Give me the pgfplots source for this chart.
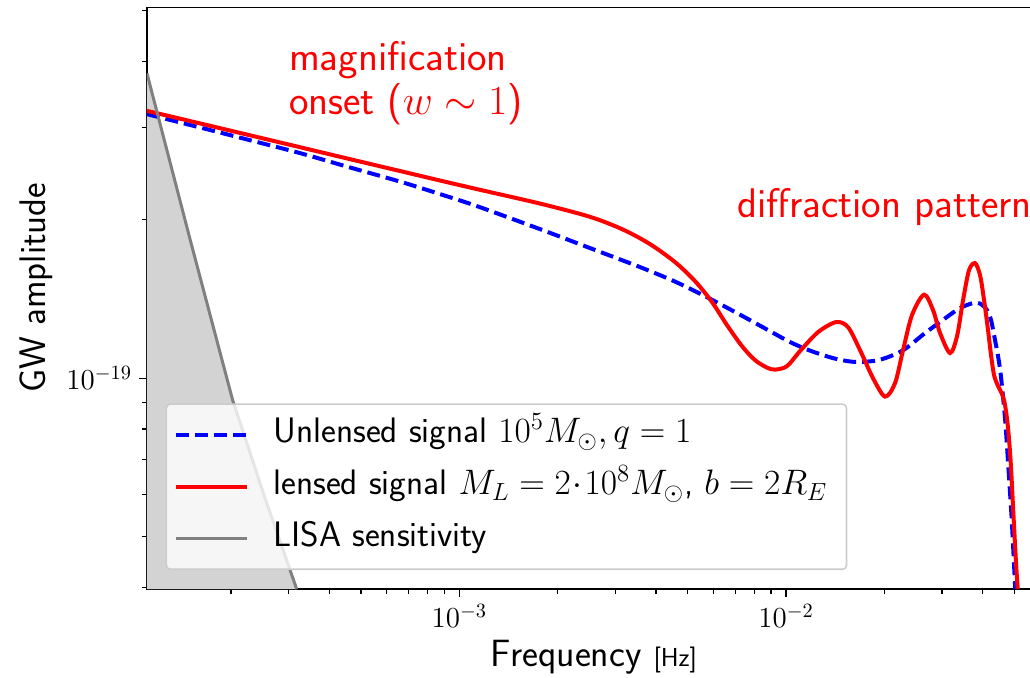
\RequirePackage{fix-cm}
\documentclass[border=0pt]{standalone}
\usepackage{pgfplots}
\pgfplotsset{compat=1.18}
\definecolor{lisafill}{HTML}{D3D3D3}
\definecolor{legedge}{HTML}{CCCCCC}
\begin{document}
\begin{tikzpicture}
\begin{axis}[
  name=ax,
  xmode=log, ymode=log,
  scale only axis,
  width=447pt, height=290.85pt,
  xmin=1.107e-4, xmax=6.03e-2,
  ymin=3.971e-20, ymax=5.067e-19,
  xtick={1e-3,1e-2},
  minor xtick={2e-4,3e-4,4e-4,5e-4,6e-4,7e-4,8e-4,9e-4,2e-3,3e-3,4e-3,5e-3,6e-3,7e-3,8e-3,9e-3,2e-2,3e-2,4e-2,5e-2,6e-2},
  ytick={1e-19},
  minor ytick={4e-20,5e-20,6e-20,7e-20,8e-20,9e-20,2e-19,3e-19,4e-19,5e-19},
  tick pos=left,
  tick align=outside,
  major tick length=4pt,
  minor tick length=2.5pt,
  tick style={black, line width=0.6pt},
  axis line style={line width=0.8pt},
  tick label style={font=\fontsize{14.5}{17}\selectfont},
  xlabel={Frequency {\fontsize{13}{15}\selectfont [Hz]}},
  ylabel={GW amplitude},
  xlabel style={font=\fontsize{19}{22}\selectfont\sffamily, at={(axis description cs:0.5,-0.1324)}, anchor=base},
  ylabel style={font=\fontsize{18.5}{22}\selectfont\sffamily, at={(axis description cs:-0.113,0.518)}, anchor=base},
  legend cell align=left,
  legend image code/.code={\draw[#1] (0pt,0pt) -- (35.5pt,0pt);},
  legend style={
    at={(axis description cs:0.0208,0.0327)}, anchor=south west,
    fill=white, fill opacity=0.8, draw opacity=1, text opacity=1,
    draw=legedge, line width=0.8pt, rounded corners=2pt,
    font=\fontsize{17.7}{20}\selectfont\sffamily,
    inner xsep=3.6pt, inner ysep=4.8pt,
    row sep=5pt, column sep=10.5pt,
    nodes={inner sep=2pt, text height=12.5pt, text depth=4.5pt},
  },
]
% LISA sensitivity region
\addplot[draw=none, fill=lisafill, forget plot] coordinates {
  (1.107e-4,3.796e-19) (1.502e-4,1.830e-19) (2.025e-4,9.08e-20)
  (2.525e-4,5.99e-20) (3.180e-4,3.971e-20) (1.107e-4,3.971e-20)
};

\addplot[blue, line width=2pt, dash pattern=on 6.5pt off 3pt, smooth] coordinates {
  (1.107e-4,3.176e-19) (1.608e-4,2.996e-19) (2.240e-4,2.843e-19)
  (3.254e-4,2.678e-19) (4.532e-4,2.524e-19) (6.584e-4,2.364e-19)
  (8.728e-4,2.238e-19) (1.133e-3,2.123e-19) (1.766e-3,1.920e-19)
  (2.512e-3,1.767e-19) (3.573e-3,1.626e-19) (4.573e-3,1.526e-19)
  (5.718e-3,1.426e-19) (7.231e-3,1.320e-19) (8.810e-3,1.234e-19)
  (1.029e-2,1.171e-19) (1.184e-2,1.128e-19) (1.413e-2,1.089e-19)
  (1.646e-2,1.073e-19) (1.940e-2,1.084e-19) (2.281e-2,1.130e-19)
  (2.664e-2,1.218e-19) (3.104e-2,1.306e-19) (3.409e-2,1.359e-19)
  (3.736e-2,1.389e-19) (3.925e-2,1.386e-19) (4.123e-2,1.347e-19)
  (4.241e-2,1.289e-19) (4.362e-2,1.181e-19) (4.456e-2,1.101e-19)
  (4.535e-2,1.022e-19) (4.625e-2,9.082e-20) (4.698e-2,8.140e-20)
  (4.791e-2,6.782e-20) (4.907e-2,5.371e-20) (5.030e-2,3.971e-20)
};
\addlegendentry{Unlensed signal $10^5M_\odot, q=1$}

\addplot[red, line width=2pt, smooth] coordinates {
  (1.107e-4,3.222e-19) (1.608e-4,3.050e-19) (2.240e-4,2.904e-19)
  (3.254e-4,2.748e-19) (4.532e-4,2.616e-19) (6.584e-4,2.476e-19)
  (8.728e-4,2.375e-19) (1.133e-3,2.287e-19) (1.766e-3,2.147e-19)
  (2.512e-3,2.026e-19) (3.170e-3,1.916e-19) (3.835e-3,1.798e-19)
  (4.573e-3,1.662e-19) (5.266e-3,1.529e-19) (5.936e-3,1.395e-19)
  (6.598e-3,1.261e-19) (7.334e-3,1.150e-19) (8.037e-3,1.082e-19)
  (8.746e-3,1.047e-19) (9.254e-3,1.038e-19)
  (1.007e-2,1.054e-19) (1.104e-2,1.126e-19) (1.253e-2,1.223e-19)
  (1.423e-2,1.278e-19) (1.548e-2,1.250e-19) (1.685e-2,1.130e-19)
  (1.846e-2,1.000e-19) (2.009e-2,9.222e-20) (2.156e-2,9.783e-20)
  (2.281e-2,1.130e-19) (2.430e-2,1.318e-19) (2.645e-2,1.441e-19)
  (2.818e-2,1.347e-19) (2.961e-2,1.218e-19) (3.177e-2,1.116e-19)
  (3.338e-2,1.202e-19) (3.482e-2,1.407e-19) (3.632e-2,1.604e-19)
  (3.789e-2,1.654e-19) (3.925e-2,1.570e-19) (4.037e-2,1.407e-19)
  (4.152e-2,1.234e-19) (4.241e-2,1.106e-19) (4.332e-2,1.013e-19)
  (4.456e-2,9.656e-20) (4.583e-2,9.324e-20) (4.681e-2,8.885e-20)
  (4.781e-2,8.034e-20) (4.873e-2,6.893e-20) (4.963e-2,5.538e-20)
  (5.058e-2,4.449e-20) (5.119e-2,3.971e-20)
};
\addlegendentry{lensed signal $M_L=2\!\cdot\!10^8M_\odot$, $b=2R_E$\kern4pt}

\addplot[gray, line width=1.5pt] coordinates {
  (1.107e-4,3.796e-19) (1.502e-4,1.830e-19) (2.025e-4,9.08e-20)
  (2.525e-4,5.99e-20) (3.180e-4,3.971e-20)
};
\addlegendentry{LISA sensitivity}

\node[anchor=north west, inner sep=0pt, align=left, text=red, font=\fontsize{20.7}{21.7}\selectfont\sffamily]
  at (rel axis cs:0.1585,0.9416) {magnification\\onset ($w\sim 1$)};
\node[anchor=base west, inner sep=0pt, text=red, font=\fontsize{20.7}{24}\selectfont\sffamily]
  at (rel axis cs:0.6600,0.639) {diffraction pattern};
\end{axis}
\pgfresetboundingbox
\path[use as bounding box] ([shift={(-73.5pt,-44.5pt)}]ax.south west) rectangle ([shift={(-5.5pt,3.65pt)}]ax.north east);
\end{tikzpicture}
\end{document}
